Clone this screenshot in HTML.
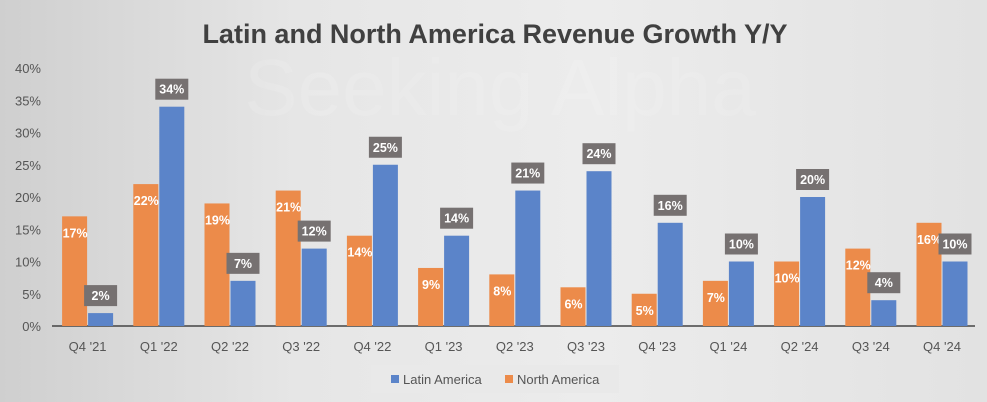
<!DOCTYPE html>
<html><head><meta charset="utf-8">
<style>
body{margin:0;width:987px;height:402px;overflow:hidden;font-family:"Liberation Sans",sans-serif;}
#bg{position:absolute;left:0;top:0;width:987px;height:402px;background:linear-gradient(90deg,#cfcfcf 0%,#e6e6e6 30%,#ececec 60%,#e2e2e2 100%);}
</style></head>
<body>
<div id="bg"></div>
<svg id="chart" width="987" height="402" style="position:absolute;left:0;top:0">
<text x="495" y="43" text-anchor="middle" font-size="27" font-weight="bold" fill="#404040">Latin and North America Revenue Growth Y/Y</text>
<text x="500" y="115" text-anchor="middle" font-size="80" fill="#ffffff" fill-opacity="0.12">Seeking Alpha</text>
<g id="grid"></g><g id="bars"></g>
<g>
<rect x="371" y="365" width="248" height="28" fill="#e9e9e9"/>
<rect x="391" y="375" width="8" height="8" fill="#5b84c9"/>
<text x="403" y="384" font-size="13" fill="#555">Latin America</text>
<rect x="505" y="375" width="8" height="8" fill="#ec8b4a"/>
<text x="517" y="384" font-size="13" fill="#555">North America</text>
</g>
</svg>
<script>
const categories=["Q4 '21","Q1 '22","Q2 '22","Q3 '22","Q4 '22","Q1 '23","Q2 '23","Q3 '23","Q4 '23","Q1 '24","Q2 '24","Q3 '24","Q4 '24"];
const northAmerica=[17,22,19,21,14,9,8,6,5,7,10,12,16];
const latinAmerica=[2,34,7,12,25,14,21,24,16,10,20,4,10];
const yTicks=[0,5,10,15,20,25,30,35,40];
const ns="http://www.w3.org/2000/svg";
const y0=326,yTop=68,yMax=40;
function yScale(v){return y0-(v/yMax)*(y0-yTop);}
const xStart=52,step=71.2;
function xCenter(i){return xStart+step*(i+0.5);}
const bw=25;
function mk(tag,attrs,parent){const e=document.createElementNS(ns,tag);for(const k in attrs)e.setAttribute(k,attrs[k]);parent.appendChild(e);return e;}
const grid=document.getElementById('grid'),bars=document.getElementById('bars');
yTicks.forEach(t=>{
  const tx=mk('text',{x:41,y:yScale(t)+5,'text-anchor':'end','font-size':13,fill:'#555'},grid);
  tx.textContent=t+'%';
  
  
});
const ax=mk('line',{x1:52,x2:975,y1:y0,y2:y0,stroke:'#444','stroke-width':1.5},grid);


categories.forEach((c,i)=>{
  const cx=xCenter(i);
  const tx=mk('text',{x:cx,y:351,'text-anchor':'middle','font-size':13,fill:'#555'},grid);
  tx.textContent=c;
  
  
  const na=northAmerica[i],la=latinAmerica[i];
  const r1=mk('rect',{x:cx-bw-0.5,y:yScale(na),width:bw,height:y0-yScale(na),fill:'#ec8b4a'},bars);
  
  
  const r2=mk('rect',{x:cx+0.5,y:yScale(la),width:bw,height:y0-yScale(la),fill:'#5b84c9'},bars);
  
  
  const t1=mk('text',{x:cx-bw/2,y:yScale(na)+21,'text-anchor':'middle','font-size':12.5,'font-weight':'bold',fill:'#fff'},bars);
  t1.textContent=na+'%';
  
  
  const by=yScale(la)-28;
  const box=mk('rect',{x:cx+bw/2-16,y:by,width:33,height:21,fill:'#767171'},bars);
  
  
  const t2=mk('text',{x:cx+bw/2+0.5,y:by+15,'text-anchor':'middle','font-size':12.5,'font-weight':'bold',fill:'#fff'},bars);
  t2.textContent=la+'%';
  
  
});
</script>
</body></html>
